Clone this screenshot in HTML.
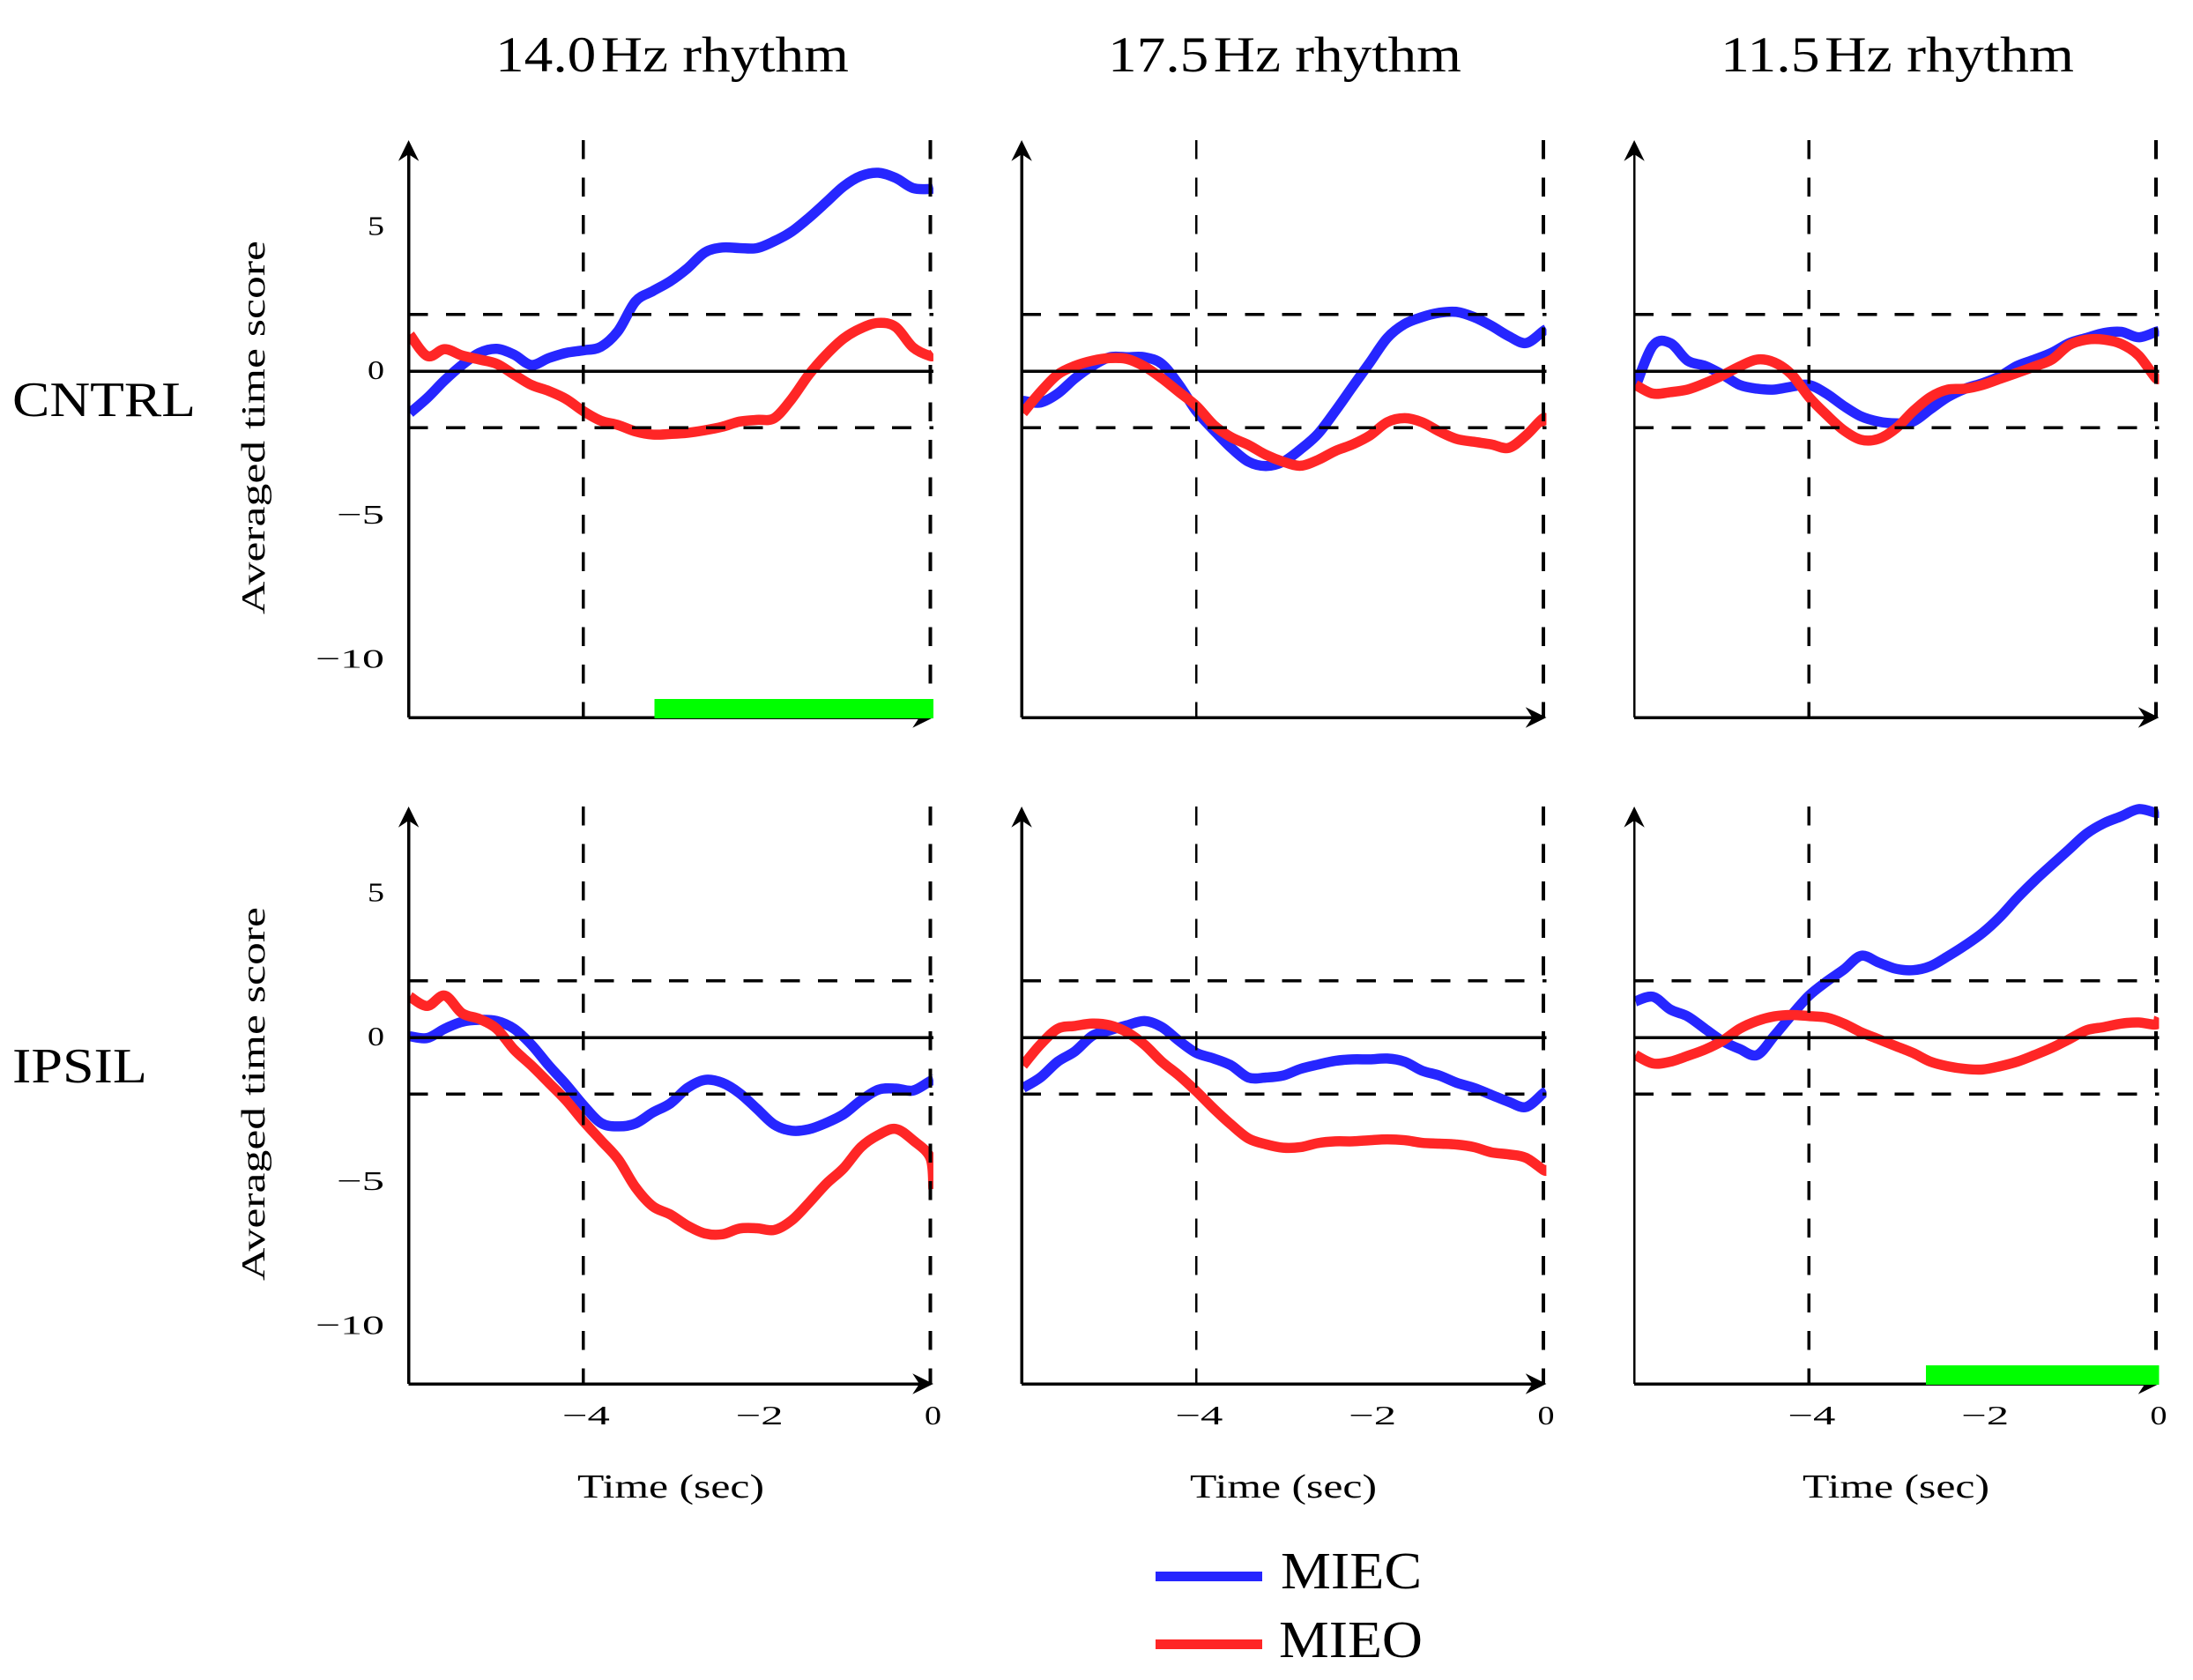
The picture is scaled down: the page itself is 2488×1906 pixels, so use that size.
<!DOCTYPE html>
<html>
<head>
<meta charset="utf-8">
<title>Averaged time score by rhythm</title>
<style>
html,body{margin:0;padding:0;background:#fff;width:2488px;height:1906px;overflow:hidden}
svg{display:block}
text{font-family:"Liberation Serif",serif;fill:#000}
</style>
</head>
<body>
<svg id="figure" xmlns="http://www.w3.org/2000/svg" width="2488" height="1906" viewBox="0 0 2488 1906">
  <rect x="0" y="0" width="2488" height="1906" fill="#fff"/>
  <text x="562" y="81" font-size="57" textLength="401" lengthAdjust="spacingAndGlyphs">14.0&#8202;Hz rhythm</text>
  <text x="1257" y="81" font-size="57" textLength="401" lengthAdjust="spacingAndGlyphs">17.5&#8202;Hz rhythm</text>
  <text x="1952" y="81" font-size="57" textLength="401" lengthAdjust="spacingAndGlyphs">11.5&#8202;Hz rhythm</text>
  <text x="14" y="472" font-size="56" textLength="208" lengthAdjust="spacingAndGlyphs">CNTRL</text>
  <text x="14" y="1228" font-size="56" textLength="153" lengthAdjust="spacingAndGlyphs">IPSIL</text>
  <text transform="translate(300,697) rotate(-90)" font-size="38" textLength="424" lengthAdjust="spacingAndGlyphs">Averaged time score</text>
  <text transform="translate(300,1453) rotate(-90)" font-size="38" textLength="424" lengthAdjust="spacingAndGlyphs">Averaged time score</text>
  <text x="655" y="1699" font-size="38" textLength="212" lengthAdjust="spacingAndGlyphs">Time (sec)</text>
  <text x="1350" y="1699" font-size="38" textLength="212" lengthAdjust="spacingAndGlyphs">Time (sec)</text>
  <text x="2045" y="1699" font-size="38" textLength="212" lengthAdjust="spacingAndGlyphs">Time (sec)</text>
  <g>
    <line x1="1311" x2="1432" y1="1788.5" y2="1788.5" stroke="#2626ff" stroke-width="11" shape-rendering="crispEdges"/>
    <text x="1453" y="1802" font-size="59" textLength="160" lengthAdjust="spacingAndGlyphs">MIEC</text>
    <line x1="1311" x2="1432" y1="1865.5" y2="1865.5" stroke="#ff2626" stroke-width="11" shape-rendering="crispEdges"/>
    <text x="1451" y="1880" font-size="59" textLength="163" lengthAdjust="spacingAndGlyphs">MIEO</text>
  </g>
</svg>
<script>
const timeSeconds = [-6,-5.8,-5.6,-5.4,-5.2,-5,-4.8,-4.6,-4.4,-4.2,-4,-3.8,-3.6,-3.4,-3.2,-3,-2.8,-2.6,-2.4,-2.2,-2,-1.8,-1.6,-1.4,-1.2,-1,-0.8,-0.6,-0.4,-0.2,0,0.035];

const miecCntrl14 = [-1.45,-.93,-.32,.21,.63,.77,.57,.21,.45,.63,.72,.84,1.39,2.41,2.77,3.11,3.56,4.11,4.28,4.26,4.26,4.50,4.83,5.31,5.85,6.40,6.76,6.87,6.69,6.34,6.31,6.34];
const mieoCntrl14 = [1.26,.52,.76,.54,.40,.25,-.12,-.48,-.69,-.97,-1.39,-1.72,-1.87,-2.09,-2.20,-2.18,-2.14,-2.05,-1.93,-1.75,-1.69,-1.63,-.97,-.12,.57,1.13,1.48,1.67,1.53,.82,.52,.60];
const miecCntrl17 = [-1.03,-1.09,-.78,-.25,.18,.48,.48,.48,.25,-.48,-1.39,-2.05,-2.66,-3.14,-3.29,-3.14,-2.71,-2.18,-1.39,-.54,.30,1.15,1.63,1.87,2.02,2.05,1.87,1.57,1.21,.97,1.39,1.45];
const mieoCntrl17 = [-1.45,-.73,-.12,.18,.36,.45,.42,.16,-.25,-.73,-1.21,-1.87,-2.29,-2.56,-2.90,-3.14,-3.28,-3.08,-2.77,-2.54,-2.23,-1.77,-1.63,-1.77,-2.09,-2.35,-2.45,-2.54,-2.66,-2.23,-1.63,-1.87];
const miecCntrl11 = [-.54,.88,.97,.36,.18,-.12,-.48,-.61,-.64,-.54,-.48,-.78,-1.21,-1.57,-1.75,-1.81,-1.75,-1.32,-.90,-.61,-.42,-.18,.18,.40,.64,.97,1.15,1.32,1.36,1.17,1.36,1.39];
const mieoCntrl11 = [-.48,-.78,-.73,-.64,-.42,-.15,.16,.40,.30,-.12,-.90,-1.51,-2.05,-2.38,-2.35,-1.99,-1.39,-.90,-.64,-.61,-.48,-.27,-.06,.16,.40,.90,1.09,1.09,.94,.54,-.25,-.12];
const miecIpsil14 = [.04,-.02,.30,.54,.61,.57,.30,-.25,-.97,-1.63,-2.35,-2.96,-3.08,-2.98,-2.60,-2.29,-1.75,-1.47,-1.57,-1.93,-2.47,-3.02,-3.23,-3.18,-2.96,-2.66,-2.18,-1.81,-1.77,-1.84,-1.51,-1.48];
const mieoIpsil14 = [1.41,1.09,1.45,.84,.64,.30,-.42,-.97,-1.57,-2.18,-2.90,-3.56,-4.22,-5.19,-5.85,-6.13,-6.52,-6.79,-6.82,-6.62,-6.61,-6.67,-6.34,-5.73,-5.07,-4.53,-3.80,-3.38,-3.17,-3.56,-4.17,-5.25];
const miecIpsil17 = [-1.75,-1.39,-.84,-.48,.06,.25,.42,.57,.36,-.12,-.54,-.73,-.97,-1.39,-1.39,-1.32,-1.09,-.94,-.81,-.76,-.76,-.73,-.84,-1.15,-1.32,-1.57,-1.75,-1.99,-2.23,-2.41,-1.93,-1.87];
const mieoIpsil17 = [-.97,-.25,.30,.40,.48,.42,.18,-.25,-.84,-1.32,-1.87,-2.47,-3.02,-3.50,-3.70,-3.82,-3.80,-3.66,-3.60,-3.60,-3.56,-3.53,-3.56,-3.65,-3.68,-3.71,-3.80,-3.98,-4.05,-4.17,-4.59,-4.59];
const miecIpsil11 = [1.25,1.41,.97,.73,.30,-.12,-.40,-.61,.06,.78,1.45,1.93,2.35,2.83,2.60,2.38,2.33,2.47,2.81,3.19,3.62,4.17,4.83,5.43,5.98,6.52,7.06,7.42,7.66,7.91,7.78,7.81];
const mieoIpsil11 = [-.61,-.90,-.84,-.64,-.42,-.12,.30,.57,.73,.78,.74,.69,.48,.18,-.06,-.30,-.54,-.84,-1.00,-1.09,-1.11,-1.00,-.84,-.61,-.36,-.06,.25,.36,.48,.52,.45,.68];

const yTickValues = [5,0,-5,-10];
const yTickLabels = ['5','0','\u22125','\u221210'];
const xTickValues = [-4,-2,0];
const xTickLabels = ['\u22124','\u22122','0'];
const guideValues = [1.96,-1.96];
const markerTimes = [-4,0];
const sigStartCntrl14 = -3.18;
const sigStartIpsil11 = -2.65;
const sigEnd = 0.035;

const SVGNS = 'http://www.w3.org/2000/svg';
const fig = document.getElementById('figure');
const colZero = [1055.5,1751,2446];
const rowZero = [421,1177];
const colNames = ['14hz','17hz','11hz'];
const rowNames = ['cntrl','ipsil'];
const xUnit = 98.4;
const yUnit = 32.75;
const BLACK = '#000';

function xScale(col, t){ return colZero[col] + t * xUnit; }
function yScale(row, v){ return rowZero[row] - v * yUnit; }

function make(tag, parent, attrs){
  const el = document.createElementNS(SVGNS, tag);
  for (const k in attrs) el.setAttribute(k, attrs[k]);
  parent.appendChild(el);
  return el;
}

function smoothPath(pts){
  let d = 'M' + pts[0][0].toFixed(2) + ' ' + pts[0][1].toFixed(2);
  for (let i = 0; i < pts.length - 1; i++){
    const p0 = pts[Math.max(i-1,0)], p1 = pts[i], p2 = pts[i+1], p3 = pts[Math.min(i+2,pts.length-1)];
    const c1x = p1[0] + (p2[0]-p0[0])/6, c1y = p1[1] + (p2[1]-p0[1])/6;
    const c2x = p2[0] - (p3[0]-p1[0])/6, c2y = p2[1] - (p3[1]-p1[1])/6;
    d += 'C' + c1x.toFixed(2) + ' ' + c1y.toFixed(2) + ' ' + c2x.toFixed(2) + ' ' + c2y.toFixed(2) + ' ' + p2[0].toFixed(2) + ' ' + p2[1].toFixed(2);
  }
  return d;
}

function labelWidth(label){ return label.length === 1 ? 19 : (label.length === 2 ? 54 : 78); }

function drawPanel(row, col, miec, mieo, sigStart){
  const tag = rowNames[row] + '-' + colNames[col];
  const left = xScale(col, -6) - 1.5;
  const right = xScale(col, sigEnd);
  const bottom = yScale(row, -12);
  const top = yScale(row, 8);

  const g = make('g', fig, {});
  
  

  const clip = make('clipPath', g, {id: 'clip-' + tag});
  make('rect', clip, {x: left, y: top - 6, width: right - left, height: bottom - top + 6});

  const miecPath = make('path', g, {
    d: smoothPath(timeSeconds.map((t,i) => [xScale(col,t), yScale(row,miec[i])])),
    fill: 'none', stroke: '#2626ff', 'stroke-width': 11.5, 'stroke-linejoin': 'round',
    'clip-path': 'url(#clip-' + tag + ')'
  });
  
  

  const mieoPath = make('path', g, {
    d: smoothPath(timeSeconds.map((t,i) => [xScale(col,t), yScale(row,mieo[i])])),
    fill: 'none', stroke: '#ff2626', 'stroke-width': 11.5, 'stroke-linejoin': 'round',
    'clip-path': 'url(#clip-' + tag + ')'
  });
  
  

  const zero = make('line', g, {x1: left, x2: right, y1: yScale(row,0), y2: yScale(row,0), stroke: BLACK, 'stroke-width': 3.5, 'shape-rendering': 'crispEdges'});
  
  

  guideValues.forEach(function(v){
    const guide = make('line', g, {x1: left, x2: right, y1: yScale(row,v), y2: yScale(row,v), stroke: BLACK, 'stroke-width': 3.2, 'stroke-dasharray': '22 20.2', 'shape-rendering': 'crispEdges'});
    
    
  });

  markerTimes.forEach(function(t){
    const w = (col === 1 && t === -4) ? 2.6 : 3.6;
    const marker = make('line', g, {x1: xScale(col,t), x2: xScale(col,t), y1: top, y2: bottom, stroke: BLACK, 'stroke-width': w, 'stroke-dasharray': '21.7 20.8', 'shape-rendering': 'crispEdges'});
    
    
  });

  const yAxisW = col === 2 ? 2.6 : 3.6;
  const yAxis = make('line', g, {x1: left, x2: left, y1: bottom, y2: top + 8, stroke: BLACK, 'stroke-width': yAxisW, 'shape-rendering': 'crispEdges'});
  
  

  const xAxis = make('line', g, {x1: left, x2: right - 8, y1: bottom, y2: bottom, stroke: BLACK, 'stroke-width': 3.5, 'shape-rendering': 'crispEdges'});
  
  

  const upArrow = make('polygon', g, {fill: BLACK, points: [left, top, left-11.7, top+23.7, left, top+16, left+11.7, top+23.7].join(' ')});
  
  

  const rightArrow = make('polygon', g, {fill: BLACK, points: [right, bottom, right-23.7, bottom-11.7, right-16, bottom, right-23.7, bottom+11.7].join(' ')});
  
  

  if (col === 0){
    yTickValues.forEach(function(v,i){
      const tick = make('text', g, {x: 436, y: yScale(row,v) + 9, 'font-size': 31, 'text-anchor': 'end', textLength: labelWidth(yTickLabels[i]), lengthAdjust: 'spacingAndGlyphs'});
      tick.textContent = yTickLabels[i];
      
      
    });
  }

  if (row === 1){
    xTickValues.forEach(function(t,i){
      const tick = make('text', g, {x: xScale(col,t) + 3, y: bottom + 46, 'font-size': 31, 'text-anchor': 'middle', textLength: labelWidth(xTickLabels[i]), lengthAdjust: 'spacingAndGlyphs'});
      tick.textContent = xTickLabels[i];
      
      
    });
  }

  if (sigStart !== null){
    const sig = make('rect', g, {x: xScale(col,sigStart), y: bottom - 21, width: xScale(col,sigEnd) - xScale(col,sigStart), height: 22, fill: '#00ff00', 'shape-rendering': 'crispEdges'});
    
    
  }
}

drawPanel(0,0,miecCntrl14,mieoCntrl14,sigStartCntrl14);
drawPanel(0,1,miecCntrl17,mieoCntrl17,null);
drawPanel(0,2,miecCntrl11,mieoCntrl11,null);
drawPanel(1,0,miecIpsil14,mieoIpsil14,null);
drawPanel(1,1,miecIpsil17,mieoIpsil17,null);
drawPanel(1,2,miecIpsil11,mieoIpsil11,sigStartIpsil11);
</script>
</body>
</html>
